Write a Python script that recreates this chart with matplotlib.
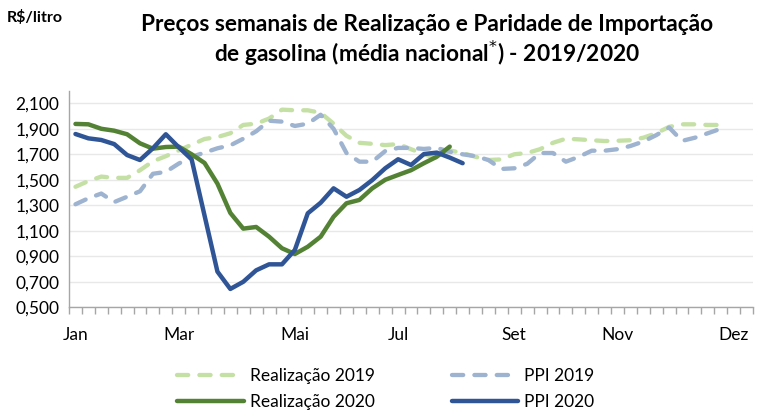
import matplotlib.pyplot as plt
from matplotlib.ticker import FixedLocator, FuncFormatter
import numpy as np

# weekly values, R$/litro
real_2019 = [1.445, 1.49, 1.525, 1.515, 1.515, 1.575, 1.645, 1.685, 1.73, 1.775,
             1.82, 1.835, 1.865, 1.93, 1.94, 1.98, 2.05, 2.045, 2.045, 2.025,
             1.94, 1.845, 1.79, 1.782, 1.772, 1.78, 1.74, 1.70, 1.67, 1.73,
             1.71, 1.68, 1.655, 1.66, 1.70, 1.71, 1.74, 1.79, 1.822, 1.817,
             1.81, 1.804, 1.806, 1.81, 1.83, 1.865, 1.915, 1.935, 1.935, 1.93, 1.93]
ppi_2019 = [1.308, 1.355, 1.392, 1.325, 1.367, 1.41, 1.547, 1.562, 1.627, 1.68,
            1.713, 1.747, 1.77, 1.822, 1.88, 1.963, 1.956, 1.922, 1.94, 2.01,
            1.90, 1.71, 1.642, 1.642, 1.725, 1.75, 1.75, 1.742, 1.75, 1.72,
            1.70, 1.685, 1.655, 1.585, 1.59, 1.625, 1.71, 1.71, 1.642, 1.68,
            1.728, 1.728, 1.74, 1.765, 1.80, 1.85, 1.91, 1.805, 1.83, 1.865, 1.90]
real_2020 = [1.938, 1.935, 1.90, 1.885, 1.857, 1.786, 1.744, 1.757, 1.76, 1.70,
             1.632, 1.47, 1.24, 1.117, 1.13, 1.054, 0.963, 0.918, 0.975, 1.054,
             1.21, 1.316, 1.342, 1.433, 1.50, 1.538, 1.575, 1.63, 1.681, 1.76]
ppi_2020 = [1.859, 1.825, 1.812, 1.78, 1.694, 1.655, 1.747, 1.857, 1.755, 1.66,
            1.22, 0.78, 0.644, 0.70, 0.79, 0.837, 0.837, 0.95, 1.237, 1.32,
            1.433, 1.367, 1.42, 1.498, 1.59, 1.661, 1.616, 1.702, 1.713, 1.674, 1.63]

n_weeks = 53
month_labels = ["Jan", "Mar", "Mai", "Jul", "Set", "Nov", "Dez"]
month_weeks = [0, 8, 17, 25, 34, 42, 51]

plt.rcParams['font.family'] = ['Lato', 'DejaVu Sans']

fig = plt.figure(figsize=(7.72, 4.12), dpi=100)
ax = fig.add_axes([0.0894, 0.2541, 0.886, 0.5262])

dash = dict(linewidth=3.1, dashes=(2.6, 2.6), dash_capstyle='round')
ax.plot(np.arange(len(real_2019)), real_2019, color='#C5E0A5', label='Realização 2019', **dash)
ax.plot(np.arange(len(ppi_2019)), ppi_2019, color='#9DB3CF', label='PPI 2019', **dash)
ax.plot(np.arange(len(real_2020)), real_2020, color='#548235', linewidth=3.2,
        solid_capstyle='round', label='Realização 2020')
ax.plot(np.arange(len(ppi_2020)), ppi_2020, color='#2F5597', linewidth=3.2,
        solid_capstyle='round', label='PPI 2020')

ax.set_xlim(-0.5, n_weeks - 0.5)
ax.set_ylim(0.5, 2.2)
yt = np.arange(0.5, 2.11, 0.2)
ax.set_yticks(yt)
ax.yaxis.set_major_formatter(FuncFormatter(lambda v, p: f"{v:.3f}".replace('.', ',')))
ax.tick_params(axis='y', length=0, labelsize=12.5, pad=7, colors='#000000')
ax.grid(axis='y', color='#E8E8E8', linewidth=1.0)
ax.set_axisbelow(True)

ax.set_xticks(month_weeks)
ax.set_xticklabels(month_labels)
ax.xaxis.set_minor_locator(FixedLocator(np.arange(-0.5, n_weeks, 1)))
ax.tick_params(axis='x', which='major', length=0, labelsize=12.5, pad=14)
ax.tick_params(axis='x', which='minor', length=5, color='#A6A6A6', width=1)

for s in ['top', 'right']:
    ax.spines[s].set_visible(False)
for s in ['left', 'bottom']:
    ax.spines[s].set_color('#A6A6A6')
    ax.spines[s].set_linewidth(1.0)

fig.text(0.009, 0.958, "R$/litro", fontsize=11.5, fontweight='bold', va='center')
fig.text(0.553, 0.900, "Preços semanais de Realização e Paridade de Importação\n"
         "de gasolina (média nacional$^{*}$) - 2019/2020",
         fontsize=16.3, fontweight='bold', ha='center', va='center', linespacing=1.18)

handles, labels = ax.get_legend_handles_labels()
order = [0, 2, 1, 3]
fig.legend([handles[i] for i in order], [labels[i] for i in order], ncol=2,
           loc='center', bbox_to_anchor=(0.5, 0.056), frameon=False, fontsize=12.5,
           handlelength=3.85, columnspacing=4.4, handletextpad=0.35, labelspacing=0.6)

fig.savefig("out.png", dpi=100)
